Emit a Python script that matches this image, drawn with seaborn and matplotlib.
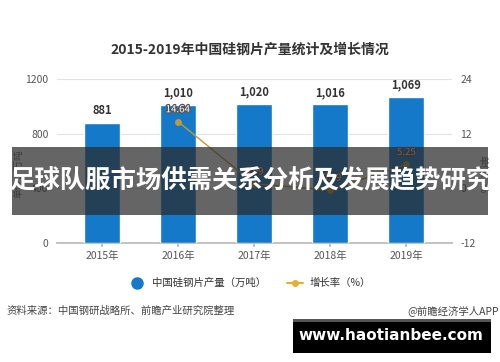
import matplotlib
matplotlib.use("Agg")
import matplotlib.pyplot as plt
import matplotlib.patheffects as pe
from matplotlib.lines import Line2D
from matplotlib.patches import Rectangle
import seaborn as sns
import pandas as pd

years = ["2015年", "2016年", "2017年", "2018年", "2019年"]
output = [881, 1010, 1020, 1016, 1069]
growth_years = ["2016年", "2017年", "2018年", "2019年"]
growth = [14.64, 0.99, -0.39, 5.25]
left_ticks = [0, 400, 800, 1200]
right_ticks = [-12, 0, 12, 24]

sns.set_theme(style="white")
plt.rcParams['font.family'] = ['Noto Sans CJK SC', 'DejaVu Sans']

fig = plt.figure(figsize=(5.0, 3.62), dpi=100)
ax = fig.add_axes([0.114, 0.329, 0.79, 0.453])

df = pd.DataFrame({"year": years, "output": output})
sns.barplot(data=df, x="year", y="output", color="#1479c9", width=0.47,
            saturation=1, ax=ax, zorder=3)
ax.set_xlim(-0.59, 4.6)
ax.set_ylim(0, 1200)
ax.set_yticks(left_ticks)
ax.set_yticklabels([str(t) for t in left_ticks], color="#555555", fontsize=7.5)
ax.grid(axis="y", color="#e3e3e3", linewidth=0.8, zorder=0)
for s in ["top", "right", "left"]:
    ax.spines[s].set_visible(False)
ax.spines["bottom"].set_color("#bbbbbb")
ax.tick_params(axis="y", length=0, pad=6)
ax.tick_params(axis="x", length=3, color="#bbbbbb", labelsize=7.5,
               labelcolor="#555555", pad=3, bottom=True)
ax.set_xlabel("")
ax.set_ylabel("单位：万吨", fontsize=7, color="#666666", labelpad=2)
ax.yaxis.set_label_coords(-0.085, 0.42)

for i, v in enumerate(output):
    ax.text(i, v + 38, f"{v:,}", ha="center", va="bottom", fontsize=8,
            fontweight="bold", color="#333333", zorder=5)

ax2 = ax.twinx()
gdf = pd.DataFrame({"year": [years.index(y) for y in growth_years], "growth": growth})
sns.lineplot(data=gdf, x="year", y="growth", color="#bf9a35", linewidth=1.0,
             marker="o", markersize=5, markeredgewidth=0, ax=ax2, zorder=4)
ax2.set_ylim(-12, 24)
ax2.set_yticks(right_ticks)
ax2.set_yticklabels([str(t) for t in right_ticks], color="#555555", fontsize=7.5)
ax2.tick_params(axis="y", length=0, pad=6)
for s in ["top", "right", "left", "bottom"]:
    ax2.spines[s].set_visible(False)
ax2.set_ylabel("单位：%", fontsize=7, color="#666666", rotation=270, labelpad=2)
ax2.yaxis.set_label_coords(1.09, 0.42)
ax2.set_xlabel("")
ax2.grid(False)
for x, v in zip(gdf["year"], growth):
    t = ax2.text(x, v + 1.6, f"{v:.2f}", ha="center", va="bottom", fontsize=7,
                 color="white", zorder=6)
    t.set_path_effects([pe.withStroke(linewidth=1.8, foreground="#555555")])

fig.text(0.5, 0.862, "2015-2019年中国硅钢片产量统计及增长情况", ha="center",
         va="center", fontsize=10, fontweight="bold", color="#333333")

handles = [
    Line2D([], [], marker="o", linestyle="none", color="#1479c9", markersize=8),
    Line2D([], [], marker="o", color="#e8b030", markersize=4, linewidth=1.5),
]
fig.legend(handles, ["中国硅钢片产量（万吨）", "增长率（%）"], loc="center",
           bbox_to_anchor=(0.5, 0.218), ncol=2, frameon=False, fontsize=7.5,
           handlelength=1.6, columnspacing=2.0, handletextpad=0.6,
           labelcolor="#333333")

fig.text(0.014, 0.143, "资料来源：中国钢研战略所、前瞻产业研究院整理", ha="left",
         va="center", fontsize=7.5, color="#444444")
fig.text(0.998, 0.143, "@前瞻经济学人APP", ha="right", va="center",
         fontsize=7.5, color="#444444")

# overlay banner
fig.patches.append(Rectangle((12 / 500, 1 - 215 / 362), 476 / 500, 68 / 362,
                             transform=fig.transFigure, facecolor="#2a2a2a",
                             alpha=0.72, edgecolor="none", zorder=10))
fig.text(0.5, 1 - 181 / 362, "足球队服市场供需关系分析及发展趋势研究", ha="center",
         va="center", fontsize=18.3, fontweight="bold", color="white", zorder=11)

# watermark box
fig.patches.append(Rectangle((293 / 500, 1 - 353 / 362), 198 / 500, 34 / 362,
                             transform=fig.transFigure, facecolor="#000000",
                             edgecolor="none", zorder=10))
fig.patches.append(Rectangle((293 / 500, 1 - 322 / 362), 198 / 500, 3 / 362,
                             transform=fig.transFigure, facecolor="#555555",
                             edgecolor="none", zorder=10.5))
fig.text(391 / 500, 1 - 336 / 362, "www.haotianbee.com", ha="center", va="center",
         fontsize=11, fontweight="bold", color="white", zorder=11,
         family=["DejaVu Sans"])

fig.savefig("out.png", dpi=100, facecolor="white")
